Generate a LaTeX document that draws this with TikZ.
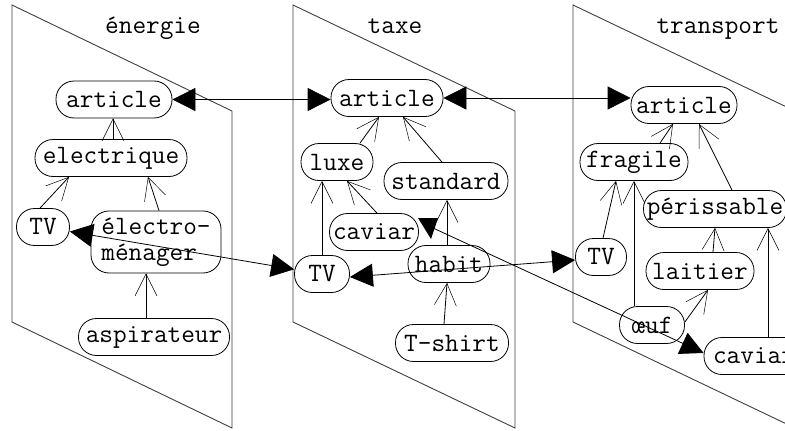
\documentclass[tikz,border=0pt]{standalone}
\usepackage{fontspec}
\usetikzlibrary{arrows.meta}
\begin{document}
\begin{tikzpicture}[x=1pt,y=-1pt,
  box/.style={draw, rounded corners=18pt, font=\ttfamily\fontsize{26.5}{26}\selectfont,
    inner xsep=2pt, inner ysep=2pt, minimum height=37pt, line width=0.8pt},
  lbl/.style={font=\ttfamily\fontsize{26.5}{26}\selectfont, anchor=base, inner sep=0pt},
  plane/.style={draw=black!75, line width=0.9pt},
  isa/.style={line width=0.8pt, -{Straight Barb[length=22pt,width=22pt,line width=0.5pt]}},
  link/.style={line width=0.8pt, {Triangle[length=23pt,width=23pt]}-{Triangle[length=23pt,width=23pt]}},
  linkend/.style={line width=0.8pt, -{Triangle[length=23pt,width=23pt]}},
]
\useasboundingbox (0,0) rectangle (785,431);
\clip (0,0) rectangle (785,431);
\fill[white] (0,0) rectangle (785,431);

% planes
\draw[plane] (12,5) -- (232,111) -- (232,428) -- (12,322) -- cycle;
\draw[plane] (293,5) -- (515,111) -- (515,428) -- (293,322) -- cycle;
\draw[plane] (573,5) -- (795,111) -- (795,428) -- (573,322) -- cycle;

% plane labels
\node[lbl] (l1) at (153,33) {énergie};
\node[lbl] (l2) at (395,33) {taxe};
\node[lbl] (l3) at (718,33) {transport};

% plane 1
\node[box, minimum width=116pt] (a1) at (114,99.5) {article};
\node[box, minimum width=152pt] (e1) at (111,158) {electrique};
\node[box, minimum width=53pt] (tv1) at (43,227) {TV};
\node[box, minimum width=130pt, minimum height=62pt, align=left] (em1) at (156,242) {électro-\\ménager};
\node[box, minimum width=151pt] (asp) at (154,337) {aspirateur};

% plane 2
\node[box, minimum width=112pt] (a2) at (387,98) {article};
\node[box, minimum width=72pt] (lux) at (337,162) {luxe};
\node[box, minimum width=124pt] (std) at (446,181) {standard};
\node[box, minimum width=89pt] (cav2) at (374,232) {caviar};
\node[box, minimum width=55pt] (tv2) at (322,274) {TV};
\node[box, minimum width=82pt] (hab) at (449,264) {habit};
\node[box, minimum width=113pt] (tsh) at (452,343) {T-shirt};

% plane 3
\node[box, minimum width=106pt] (a3) at (684,105) {article};
\node[box, minimum width=108pt] (fra) at (634,162) {fragile};
\node[box, minimum width=143pt] (per) at (715,209) {périssable};
\node[box, minimum width=51pt] (tv3) at (601,257) {TV};
\node[box, minimum width=108pt] (lai) at (700,271) {laitier};
\node[box, minimum width=65pt] (oeuf) at (652,325) {œuf};
\node[box, minimum width=100pt] (cav3) at (754,356) {caviar};

% hierarchy edges plane 1
\draw[isa] ([xshift=2pt]e1.north) -- ([xshift=-1pt]a1.south);
\draw[isa] ([xshift=-3pt]tv1.north) -- ([xshift=-42pt]e1.south);
\draw[isa] ([xshift=3pt]em1.north) -- ([xshift=37pt]e1.south);
\draw[isa] ([xshift=-8pt]asp.north) -- ([xshift=-10pt]em1.south);

% hierarchy edges plane 2
\draw[isa] ([xshift=23pt]lux.north) -- ([xshift=-8pt]a2.south);
\draw[isa] ([xshift=-4pt]std.north) -- ([xshift=16pt]a2.south);
\draw[isa] (tv2.north) -- ([xshift=-15pt]lux.south);
\draw[isa] ([xshift=3pt]cav2.north) -- ([xshift=10pt]lux.south);
\draw[isa] ([xshift=-2pt]hab.north) -- ([xshift=1pt]std.south);
\draw[isa] ([xshift=-8pt]tsh.north) -- ([xshift=-2pt]hab.south);

% hierarchy edges plane 3
\draw[isa] ([xshift=26pt]fra.north) -- ([xshift=-11pt]a3.south);
\draw[isa] ([xshift=17pt]per.north) -- ([xshift=15pt]a3.south);
\draw[isa] ([xshift=2pt]tv3.north) -- ([xshift=-18pt]fra.south);
\draw[isa] ([xshift=-18pt]oeuf.north) -- (fra.south);
\draw[isa] ([xshift=13pt]lai.north) -- (per.south);
\draw[isa] ([yshift=3pt]oeuf.east) -- ([xshift=8pt]lai.south);
\draw[isa] ([xshift=14pt]cav3.north) -- ([xshift=53pt]per.south);

% links between planes
\draw[link] (a1.east) -- (a1.east -| a2.west);
\draw[link] (a2.east) -- (a2.east -| a3.west);
\draw[link] (tv1) -- (tv2);
\draw[link] ([yshift=-3pt]tv2.east) -- ([yshift=-3pt]tv3.west);
\coordinate (cavend) at (433,228);
\draw[linkend] (cavend) -- ([yshift=3pt]cav3.west);
\fill (418,218) -- (438,218) -- (431,239) -- cycle;
\end{tikzpicture}
\end{document}
